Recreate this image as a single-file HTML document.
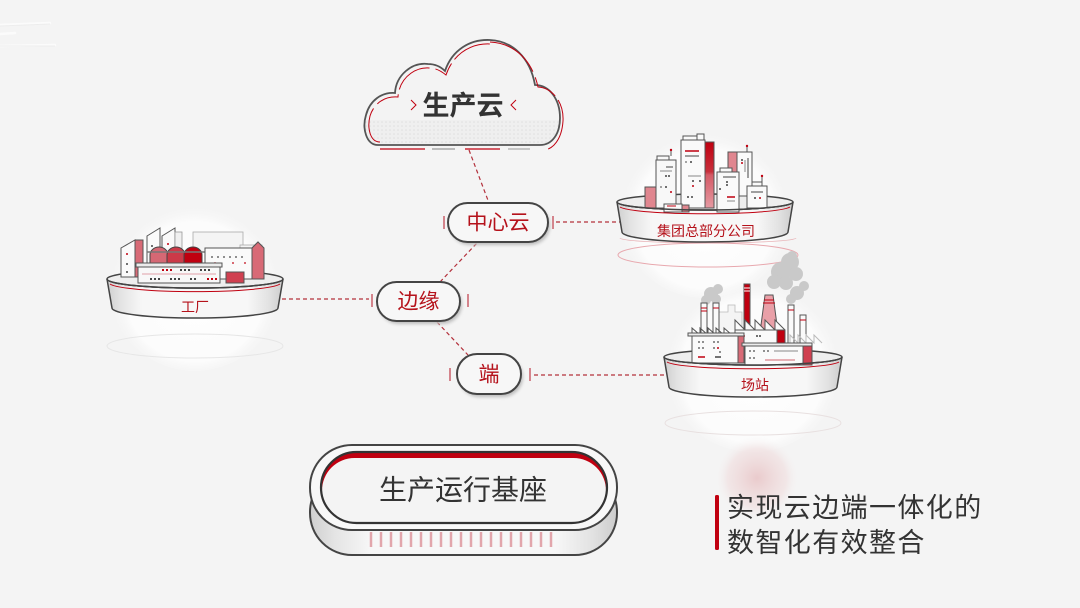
<!DOCTYPE html>
<html><head><meta charset="utf-8">
<style>
html,body{margin:0;padding:0;background:#f4f4f4;}
svg{display:block;}
text{font-family:"Liberation Sans","Noto Sans CJK SC",sans-serif;}
</style></head>
<body>
<svg width="1080" height="608" viewBox="0 0 1080 608" xmlns="http://www.w3.org/2000/svg">
<defs>
  <radialGradient id="dome" cx="50%" cy="55%" r="50%">
    <stop offset="0%" stop-color="#ffffff" stop-opacity="1"/>
    <stop offset="80%" stop-color="#fcfcfc" stop-opacity="0.95"/>
    <stop offset="100%" stop-color="#f4f4f4" stop-opacity="0"/>
  </radialGradient>
  <linearGradient id="side" x1="0" y1="0" x2="1" y2="0">
    <stop offset="0" stop-color="#cfcfcf"/>
    <stop offset="0.08" stop-color="#e4e4e4"/>
    <stop offset="0.2" stop-color="#f7f7f7"/>
    <stop offset="0.8" stop-color="#f7f7f7"/>
    <stop offset="0.92" stop-color="#e2e2e2"/>
    <stop offset="1" stop-color="#cccccc"/>
  </linearGradient>
  <linearGradient id="redstrip" x1="0" y1="0" x2="0" y2="1">
    <stop offset="0" stop-color="#c00010"/>
    <stop offset="0.45" stop-color="#c8303c"/>
    <stop offset="0.5" stop-color="#d45a66"/>
    <stop offset="1" stop-color="#e59aa2"/>
  </linearGradient>
  <radialGradient id="pink" cx="50%" cy="50%" r="50%">
    <stop offset="0" stop-color="#e7c0c2" stop-opacity="0.8"/>
    <stop offset="0.7" stop-color="#efd8d9" stop-opacity="0.5"/>
    <stop offset="1" stop-color="#f4f4f4" stop-opacity="0"/>
  </radialGradient>
  <pattern id="dots" width="4" height="4" patternUnits="userSpaceOnUse">
    <rect width="4" height="4" fill="#efefef"/>
    <circle cx="2" cy="2" r="0.8" fill="#dedede"/>
  </pattern>
  <filter id="blur" x="-20%" y="-20%" width="140%" height="140%"><feGaussianBlur stdDeviation="1.5"/></filter>
</defs>

<!-- faint top-left streaks -->
<g stroke="#ffffff" stroke-width="2.5" opacity="0.7" stroke-linecap="round">
  <line x1="0" y1="25" x2="50" y2="23"/>
  <line x1="0" y1="34" x2="15" y2="33"/>
  <line x1="0" y1="46" x2="55" y2="45"/>
</g>
<g stroke="#e8e8e8" stroke-width="1" opacity="0.7">
  <line x1="0" y1="26" x2="50" y2="24"/>
  <line x1="0" y1="46" x2="55" y2="46"/>
</g>

<!-- ================= CLOUD ================= -->
<g>
  <path d="M378,145 C366,145 362,128 366,115 C370,100 382,92 395,93 C396,75 412,62 428,64 C435,64 441,67 445,71 C452,50 470,39 490,40 C512,41 530,57 535,85 C550,85 560,100 560,118 C560,134 552,145 540,145 Z" fill="#f3f3f3"/>
  <clipPath id="cloudclip"><path d="M378,145 C366,145 362,128 366,115 C370,100 382,92 395,93 C396,75 412,62 428,64 C435,64 441,67 445,71 C452,50 470,39 490,40 C512,41 530,57 535,85 C550,85 560,100 560,118 C560,134 552,145 540,145 Z"/></clipPath>
  <rect x="360" y="120" width="210" height="30" fill="url(#dots)" clip-path="url(#cloudclip)"/>
  <path d="M378,145 C366,145 362,128 366,115 C370,100 382,92 395,93 C396,75 412,62 428,64 C435,64 441,67 445,71 C452,50 470,39 490,40 C512,41 530,57 535,85 C550,85 560,100 560,118 C560,134 552,145 540,145 Z" fill="none" stroke="#555" stroke-width="1.8"/>
  <path d="M380,142 C370,142 367,128 370,116 C374,103 385,96 398,97 C399,79 414,67 429,68 C436,68 441,71 446,75 C453,54 471,43 490,44" fill="none" stroke="#c00010" stroke-width="1" stroke-dasharray="40 6 25 5"/>
  <path d="M490,42 C513,43 532,59 538,87 C553,88 564,103 563,121 C562,137 555,148 545,150" fill="none" stroke="#c00010" stroke-width="1" stroke-dasharray="55 6 30 5"/>
  <g stroke-width="1.2">
    <line x1="380" y1="149" x2="425" y2="149" stroke="#c00010"/>
    <line x1="432" y1="149" x2="455" y2="149" stroke="#999"/>
    <line x1="465" y1="149" x2="500" y2="149" stroke="#c00010"/>
    <line x1="508" y1="149" x2="530" y2="149" stroke="#aaa"/>
  </g>
  <text x="463" y="106" font-size="27" font-weight="bold" fill="#333" text-anchor="middle" dominant-baseline="central">生产云</text>
  <path d="M411,100 L416,105 L411,110" fill="none" stroke="#c00010" stroke-width="1"/>
  <path d="M516,100 L511,105 L516,110" fill="none" stroke="#c00010" stroke-width="1"/>
</g>

<!-- ================= CONNECTORS ================= -->
<g stroke="#b3303b" stroke-width="1.2" stroke-dasharray="4 3" fill="none">
  <line x1="469" y1="150" x2="489" y2="203"/>
  <line x1="556" y1="222" x2="620" y2="222"/>
  <line x1="440" y1="282" x2="477" y2="243"/>
  <line x1="437" y1="322" x2="468" y2="355"/>
  <line x1="282" y1="299" x2="369" y2="299"/>
  <line x1="534" y1="375" x2="666" y2="375"/>
</g>
<g stroke="#d4848c" stroke-width="2">
  <line x1="444" y1="216" x2="444" y2="229"/>
  <line x1="553" y1="216" x2="553" y2="229"/>
  <line x1="372" y1="294" x2="372" y2="307"/>
  <line x1="468" y1="294" x2="468" y2="307"/>
  <line x1="450" y1="368" x2="450" y2="381"/>
  <line x1="530" y1="368" x2="530" y2="381"/>
</g>

<!-- ================= PILLS ================= -->
<g>
  <rect x="450" y="206" width="100" height="39" rx="19.5" fill="#bdbdbd" filter="url(#blur)"/>
  <rect x="448" y="203" width="100" height="39" rx="19.5" fill="#f7f7f7" stroke="#444" stroke-width="2"/>
  <text x="498" y="223" font-size="21" fill="#b5121b" text-anchor="middle" dominant-baseline="central">中心云</text>

  <rect x="379" y="285" width="83" height="39" rx="19.5" fill="#bdbdbd" filter="url(#blur)"/>
  <rect x="377" y="282" width="83" height="39" rx="19.5" fill="#f7f7f7" stroke="#444" stroke-width="2"/>
  <text x="418.5" y="302" font-size="21" fill="#b5121b" text-anchor="middle" dominant-baseline="central">边缘</text>

  <rect x="459" y="357" width="64" height="40" rx="20" fill="#bdbdbd" filter="url(#blur)"/>
  <rect x="457" y="354" width="64" height="40" rx="20" fill="#f7f7f7" stroke="#444" stroke-width="2"/>
  <text x="489" y="375" font-size="21" fill="#b5121b" text-anchor="middle" dominant-baseline="central">端</text>
</g>

<!-- ================= FACTORY PLATFORM (工厂) ================= -->
<g>
  <circle cx="195" cy="283" r="88" fill="url(#dome)"/>
  <ellipse cx="195" cy="346" rx="88" ry="12" fill="none" stroke="#e6e6e6" stroke-width="1"/>
  <path d="M107,279 L112,308 A83,10 0 0 0 278,308 L283,279 A88,9 0 0 1 107,279 Z" fill="url(#side)" stroke="#444" stroke-width="1.5"/>
  <ellipse cx="195" cy="279" rx="88" ry="9" fill="#eeeeee" stroke="#444" stroke-width="1.5"/>
  <!-- buildings -->
  <rect x="193" y="232" width="50" height="20" fill="#f4f4f4" stroke="#aaa" stroke-width="0.8"/>
  <rect x="240" y="245" width="22" height="30" fill="#f4f4f4" stroke="#aaa" stroke-width="0.8"/>
  <polygon points="121,248 135,240 135,277 121,277" fill="#fafafa" stroke="#555" stroke-width="1"/>
  <rect x="135" y="240" width="8" height="37" fill="#d86a76" stroke="#555" stroke-width="1"/>
  <circle cx="127" cy="254" r="1" fill="#c00010"/><circle cx="127" cy="264" r="1" fill="#444"/><circle cx="127" cy="272" r="1" fill="#444"/>
  <polygon points="147,236 160,228 160,266 147,266" fill="#fafafa" stroke="#555" stroke-width="1"/>
  <polygon points="162,236 175,228 175,266 162,266" fill="#fafafa" stroke="#555" stroke-width="1"/>
  <rect x="175" y="232" width="7" height="30" fill="#f0f0f0" stroke="#999" stroke-width="0.8"/>
  <circle cx="152" cy="246" r="1" fill="#444"/><circle cx="168" cy="244" r="1" fill="#c00010"/>
  <path d="M150,264 L150,255 A9,8 0 0 1 168,255 L168,264 Z" fill="#d56874" stroke="#444" stroke-width="1"/>
  <path d="M167,264 L167,255 A9,8 0 0 1 185,255 L185,264 Z" fill="#cc3a48" stroke="#444" stroke-width="1"/>
  <path d="M184,264 L184,255 A9,8 0 0 1 202,255 L202,264 Z" fill="#c00010" stroke="#444" stroke-width="1"/>
  <line x1="147" y1="252" x2="206" y2="252" stroke="#777" stroke-width="1.5"/>
  <polygon points="205,248 252,248 258,242 262,248 262,279 205,279" fill="#fafafa" stroke="#555" stroke-width="1"/>
  <polygon points="252,248 258,242 264,248 264,279 252,279" fill="#d86a76" stroke="#555" stroke-width="1"/>
  <g fill="#444"><circle cx="212" cy="257" r="0.9"/><circle cx="218" cy="257" r="0.9"/><circle cx="224" cy="257" r="0.9"/><circle cx="230" cy="257" r="0.9"/><circle cx="236" cy="257" r="0.9"/><circle cx="242" cy="257" r="0.9"/></g>
  <g fill="#c00010"><circle cx="215" cy="263" r="0.9"/><circle cx="233" cy="263" r="0.9"/><circle cx="245" cy="263" r="0.9"/></g>
  <rect x="136" y="263" width="86" height="4" fill="#ececec" stroke="#555" stroke-width="1"/>
  <rect x="138" y="267" width="82" height="16" fill="#f8f8f8" stroke="#555" stroke-width="1"/>
  <g fill="#c00010"><rect x="162" y="269" width="2" height="2"/><rect x="166" y="269" width="2" height="2"/><rect x="170" y="269" width="2" height="2"/><rect x="207" y="278" width="2" height="2"/><rect x="211" y="278" width="2" height="2"/><rect x="215" y="278" width="2" height="2"/></g>
  <g fill="#444"><rect x="180" y="269" width="2" height="2"/><rect x="184" y="269" width="2" height="2"/><rect x="188" y="269" width="2" height="2"/><rect x="200" y="269" width="2" height="2"/><rect x="204" y="269" width="2" height="2"/><rect x="208" y="269" width="2" height="2"/>
  <rect x="150" y="278" width="2" height="2"/><rect x="154" y="278" width="2" height="2"/><rect x="158" y="278" width="2" height="2"/><rect x="170" y="278" width="2" height="2"/><rect x="174" y="278" width="2" height="2"/><rect x="178" y="278" width="2" height="2"/><rect x="190" y="278" width="2" height="2"/><rect x="194" y="278" width="2" height="2"/></g>
  <line x1="142" y1="274" x2="216" y2="274" stroke="#d9848c" stroke-width="0.8"/>
  <rect x="226" y="272" width="18" height="11" fill="#d04050" stroke="#555" stroke-width="1"/>
  <path d="M107,279 A88,9 0 0 0 283,279" fill="none" stroke="#444" stroke-width="1.5"/>
  <path d="M110,284 A86,9 0 0 0 280,284" fill="none" stroke="#c00010" stroke-width="1"/>
  <text x="195" y="307" font-size="14" fill="#b5121b" text-anchor="middle" dominant-baseline="central">工厂</text>
</g>

<!-- ================= HQ PLATFORM (集团总部分公司) ================= -->
<g>
  <circle cx="705" cy="210" r="88" fill="url(#dome)"/>
  <path d="M620,238 A88,5 0 0 0 796,238" fill="none" stroke="#e8b4b8" stroke-width="0.8"/>
  <ellipse cx="708" cy="255" rx="90" ry="12" fill="none" stroke="#e8a8ae" stroke-width="1"/>
  <path d="M617,202 L622,232 A83,10 0 0 0 788,232 L793,202 A88,8 0 0 1 617,202 Z" fill="url(#side)" stroke="#444" stroke-width="1.5"/>
  <ellipse cx="705" cy="202" rx="88" ry="8" fill="#eeeeee" stroke="#444" stroke-width="1.5"/>
  <!-- buildings -->
  <rect x="645" y="187" width="11" height="21" fill="#e0868f" stroke="#555" stroke-width="1"/>
  <rect x="656" y="160" width="20" height="48" fill="#f8f8f8" stroke="#555" stroke-width="1"/>
  <rect x="657" y="156" width="12" height="4" fill="#f8f8f8" stroke="#555" stroke-width="1"/>
  <line x1="671" y1="150" x2="671" y2="156" stroke="#555"/><circle cx="671" cy="150" r="1.2" fill="#c00010"/>
  <line x1="666" y1="167" x2="673" y2="167" stroke="#444" stroke-width="1"/>
  <line x1="660" y1="171" x2="672" y2="171" stroke="#888" stroke-width="1"/>
  <circle cx="666" cy="176" r="1" fill="#444"/><circle cx="669" cy="176" r="1" fill="#444"/><circle cx="661" cy="187" r="1" fill="#888"/><circle cx="666" cy="187" r="1" fill="#444"/><circle cx="671" cy="192" r="1" fill="#c00010"/>
  <rect x="681" y="140" width="24" height="68" fill="#fafafa" stroke="#555" stroke-width="1"/>
  <rect x="683" y="136" width="14" height="4" fill="#fafafa" stroke="#555" stroke-width="1"/>
  <rect x="697" y="134" width="7" height="6" fill="#fafafa" stroke="#555" stroke-width="1"/>
  <rect x="705" y="142" width="9" height="66" fill="url(#redstrip)" stroke="#555" stroke-width="1"/>
  <line x1="685" y1="151" x2="699" y2="151" stroke="#c00010" stroke-width="1.5"/>
  <line x1="685" y1="156" x2="699" y2="156" stroke="#444" stroke-width="1"/>
  <circle cx="686" cy="162" r="1" fill="#888"/><circle cx="691" cy="162" r="1" fill="#444"/>
  <line x1="688" y1="176" x2="701" y2="176" stroke="#888" stroke-width="1"/>
  <circle cx="693" cy="181" r="1" fill="#444"/><circle cx="700" cy="181" r="1" fill="#444"/><circle cx="693" cy="186" r="1" fill="#c00010"/>
  <circle cx="688" cy="197" r="1" fill="#444"/><circle cx="692" cy="197" r="1" fill="#444"/>
  <rect x="728" y="152" width="24" height="44" fill="#fafafa" stroke="#555" stroke-width="1"/>
  <rect x="728" y="152" width="9" height="44" fill="#e0868f" stroke="#555" stroke-width="1"/>
  <line x1="747" y1="146" x2="747" y2="152" stroke="#555"/><circle cx="747" cy="146" r="1.2" fill="#c00010"/>
  <line x1="748" y1="158" x2="748" y2="178" stroke="#444"/><line x1="745" y1="160" x2="745" y2="172" stroke="#888"/>
  <circle cx="742" cy="160" r="1" fill="#444"/><circle cx="742" cy="163" r="1" fill="#c00010"/>
  <rect x="717" y="172" width="22" height="40" fill="#fafafa" stroke="#555" stroke-width="1"/>
  <rect x="720" y="168" width="12" height="4" fill="#fafafa" stroke="#555" stroke-width="1"/>
  <line x1="723" y1="177" x2="736" y2="177" stroke="#444"/>
  <circle cx="727" cy="182" r="1" fill="#444"/><circle cx="727" cy="185" r="1" fill="#444"/><circle cx="720" cy="189" r="1" fill="#444"/>
  <line x1="727" y1="197" x2="735" y2="197" stroke="#c00010" stroke-width="1.5"/>
  <line x1="727" y1="201" x2="735" y2="201" stroke="#888"/>
  <rect x="747" y="186" width="20" height="22" fill="#fafafa" stroke="#555" stroke-width="1"/>
  <rect x="752" y="182" width="10" height="4" fill="#fafafa" stroke="#555" stroke-width="1"/>
  <line x1="762" y1="176" x2="762" y2="182" stroke="#555"/><circle cx="762" cy="176" r="1.2" fill="#c00010"/>
  <line x1="751" y1="192" x2="763" y2="192" stroke="#444"/>
  <circle cx="755" cy="198" r="1" fill="#444"/><circle cx="760" cy="198" r="1" fill="#c00010"/>
  <rect x="664" y="204" width="18" height="8" fill="#fafafa" stroke="#555" stroke-width="1"/>
  <rect x="682" y="205" width="7" height="7" fill="#e0868f" stroke="#555" stroke-width="1"/>
  <line x1="667" y1="206" x2="676" y2="206" stroke="#c00010"/>
  <path d="M617,202 A88,8 0 0 0 793,202" fill="none" stroke="#444" stroke-width="1.5"/>
  <path d="M620,207 A86,8 0 0 0 790,207" fill="none" stroke="#c00010" stroke-width="1"/>
  <text x="706" y="231" font-size="14" fill="#b5121b" text-anchor="middle" dominant-baseline="central">集团总部分公司</text>
</g>

<!-- ================= STATION PLATFORM (场站) ================= -->
<g>
  <circle cx="753" cy="362" r="90" fill="url(#dome)"/>
  <ellipse cx="753" cy="423" rx="88" ry="12" fill="none" stroke="#e8e0e0" stroke-width="1"/>
  <path d="M664,357 L669,387 A84,10 0 0 0 837,387 L842,357 A89,8 0 0 1 664,357 Z" fill="url(#side)" stroke="#444" stroke-width="1.5"/>
  <ellipse cx="753" cy="357" rx="89" ry="8" fill="#eeeeee" stroke="#444" stroke-width="1.5"/>
  <!-- smoke -->
  <g fill="#c9c9c9">
    <circle cx="711" cy="294" r="7"/><circle cx="718" cy="289" r="5"/><circle cx="706" cy="300" r="5"/><circle cx="716" cy="299" r="5"/>
    <circle cx="790" cy="262" r="9"/><circle cx="781" cy="272" r="10"/><circle cx="796" cy="274" r="7"/><circle cx="774" cy="282" r="7"/><circle cx="786" cy="283" r="7"/><circle cx="792" cy="256" r="5"/>
    <circle cx="797" cy="293" r="7"/><circle cx="804" cy="286" r="5"/><circle cx="791" cy="299" r="5"/>
  </g>
  <!-- background city outline -->
  <polyline points="718,330 718,312 728,312 728,305 735,305 735,312 742,312 742,330" fill="#f4f4f4" stroke="#bbb" stroke-width="0.8"/>
  <!-- chimneys -->
  <rect x="701" y="303" width="6" height="40" fill="#fafafa" stroke="#555" stroke-width="1"/>
  <line x1="701" y1="308" x2="707" y2="308" stroke="#c00010"/><line x1="701" y1="311" x2="707" y2="311" stroke="#c00010"/>
  <rect x="713" y="303" width="6" height="40" fill="#fafafa" stroke="#555" stroke-width="1"/>
  <line x1="713" y1="308" x2="719" y2="308" stroke="#c00010"/>
  <rect x="744" y="284" width="6" height="52" fill="#c00010" stroke="#555" stroke-width="1"/>
  <line x1="744" y1="288" x2="750" y2="288" stroke="#fff"/><line x1="744" y1="291" x2="750" y2="291" stroke="#fff"/>
  <polygon points="765,295 773,295 779,340 759,340" fill="#e9a0a8" stroke="#555" stroke-width="1"/>
  <line x1="764" y1="300" x2="774" y2="300" stroke="#c00010"/><line x1="763" y1="303" x2="775" y2="303" stroke="#c00010"/>
  <rect x="788" y="305" width="6" height="38" fill="#fafafa" stroke="#555" stroke-width="1"/>
  <line x1="788" y1="310" x2="794" y2="310" stroke="#c00010"/>
  <rect x="800" y="315" width="6" height="30" fill="#fafafa" stroke="#555" stroke-width="1"/>
  <line x1="800" y1="320" x2="806" y2="320" stroke="#c00010"/>
  <!-- sawtooth roofs -->
  <polyline points="692,335 692,328 700,335 700,328 708,335 708,328 716,335 716,328 724,335 724,328 732,335" fill="none" stroke="#555" stroke-width="1"/>
  <polyline points="735,330 735,320 745,330 745,320 755,330 755,320 765,330 765,320 775,330 775,320 785,330" fill="#fafafa" stroke="#555" stroke-width="1"/>
  <polyline points="790,343 790,335 798,343 798,335 806,343 806,335 814,343 814,335 822,343" fill="none" stroke="#bbb" stroke-width="1"/>
  <rect x="735" y="330" width="50" height="15" fill="#fafafa" stroke="#555" stroke-width="1"/>
  <rect x="777" y="330" width="8" height="15" fill="#c00010" stroke="#555" stroke-width="1"/>
  <circle cx="741" cy="336" r="1" fill="#c00010"/><circle cx="744" cy="336" r="1" fill="#c00010"/><circle cx="757" cy="336" r="1" fill="#444"/><circle cx="760" cy="336" r="1" fill="#444"/>
  <rect x="688" y="333" width="56" height="3" fill="#ececec" stroke="#555" stroke-width="1"/>
  <rect x="692" y="336" width="46" height="27" fill="#fafafa" stroke="#555" stroke-width="1"/>
  <rect x="738" y="336" width="6" height="27" fill="#d86a76" stroke="#555" stroke-width="1"/>
  <g fill="#444"><circle cx="699" cy="342" r="0.9"/><circle cx="703" cy="342" r="0.9"/><circle cx="714" cy="342" r="0.9"/><circle cx="718" cy="342" r="0.9"/><circle cx="699" cy="348" r="0.9"/><circle cx="703" cy="348" r="0.9"/><circle cx="714" cy="348" r="0.9"/><circle cx="720" cy="352" r="0.9"/></g>
  <circle cx="718" cy="348" r="1" fill="#c00010"/>
  <line x1="698" y1="357" x2="705" y2="357" stroke="#c00010" stroke-width="1.5"/>
  <line x1="715" y1="357" x2="721" y2="357" stroke="#444" stroke-width="1.5"/>
  <rect x="742" y="343" width="70" height="3" fill="#ececec" stroke="#555" stroke-width="1"/>
  <rect x="745" y="346" width="58" height="19" fill="#fafafa" stroke="#555" stroke-width="1"/>
  <rect x="803" y="346" width="9" height="19" fill="#d04050" stroke="#555" stroke-width="1"/>
  <g fill="#444"><circle cx="750" cy="351" r="0.9"/><circle cx="754" cy="351" r="0.9"/><circle cx="764" cy="351" r="0.9"/><circle cx="768" cy="351" r="0.9"/><circle cx="750" cy="358" r="0.9"/><circle cx="754" cy="358" r="0.9"/></g>
  <line x1="774" y1="351" x2="798" y2="351" stroke="#888" stroke-width="1"/>
  <line x1="765" y1="360" x2="795" y2="360" stroke="#d9848c" stroke-width="1.2"/>
  <path d="M664,357 A89,8 0 0 0 842,357" fill="none" stroke="#444" stroke-width="1.5"/>
  <path d="M667,362 A87,8 0 0 0 839,362" fill="none" stroke="#c00010" stroke-width="1"/>
  <text x="755" y="385" font-size="14" fill="#b5121b" text-anchor="middle" dominant-baseline="central">场站</text>
</g>

<!-- ================= BASE PILL ================= -->
<g>
  <rect x="310" y="470" width="307" height="85" rx="42" fill="url(#side)" stroke="#444" stroke-width="2"/>
  <g stroke="#e2a6ac" stroke-width="2.5">
    <line x1="371" y1="532" x2="371" y2="547"/><line x1="381" y1="532" x2="381" y2="547"/><line x1="391" y1="532" x2="391" y2="547"/><line x1="401" y1="532" x2="401" y2="547"/><line x1="411" y1="532" x2="411" y2="547"/>
    <line x1="421" y1="532" x2="421" y2="547"/><line x1="431" y1="532" x2="431" y2="547"/><line x1="441" y1="532" x2="441" y2="547"/><line x1="451" y1="532" x2="451" y2="547"/><line x1="461" y1="532" x2="461" y2="547"/>
    <line x1="471" y1="532" x2="471" y2="547"/><line x1="481" y1="532" x2="481" y2="547"/><line x1="491" y1="532" x2="491" y2="547"/><line x1="501" y1="532" x2="501" y2="547"/><line x1="511" y1="532" x2="511" y2="547"/>
    <line x1="521" y1="532" x2="521" y2="547"/><line x1="531" y1="532" x2="531" y2="547"/><line x1="541" y1="532" x2="541" y2="547"/><line x1="551" y1="532" x2="551" y2="547"/>
  </g>
  <rect x="310" y="445" width="307" height="85" rx="42" fill="#f8f8f8" stroke="#444" stroke-width="2"/>
  <rect x="321" y="452" width="286" height="71" rx="35.5" fill="#c00010"/>
  <rect x="322" y="458" width="284" height="65" rx="32.5" fill="#f4f4f4"/>
  <rect x="321" y="452" width="286" height="71" rx="35.5" fill="none" stroke="#333" stroke-width="2.2"/>
  <text x="463" y="490" font-size="28" fill="#333" text-anchor="middle" dominant-baseline="central">生产运行基座</text>
</g>

<!-- ================= RIGHT TEXT ================= -->
<circle cx="757" cy="478" r="42" fill="url(#pink)"/>
<rect x="715" y="495" width="4" height="55" rx="1.5" fill="#c00010"/>
<text x="727" y="508" font-size="27" fill="#333" dominant-baseline="central" letter-spacing="1.4">实现云边端一体化的</text>
<text x="727" y="543" font-size="27" fill="#333" dominant-baseline="central" letter-spacing="1.4">数智化有效整合</text>
</svg>
</body></html>
